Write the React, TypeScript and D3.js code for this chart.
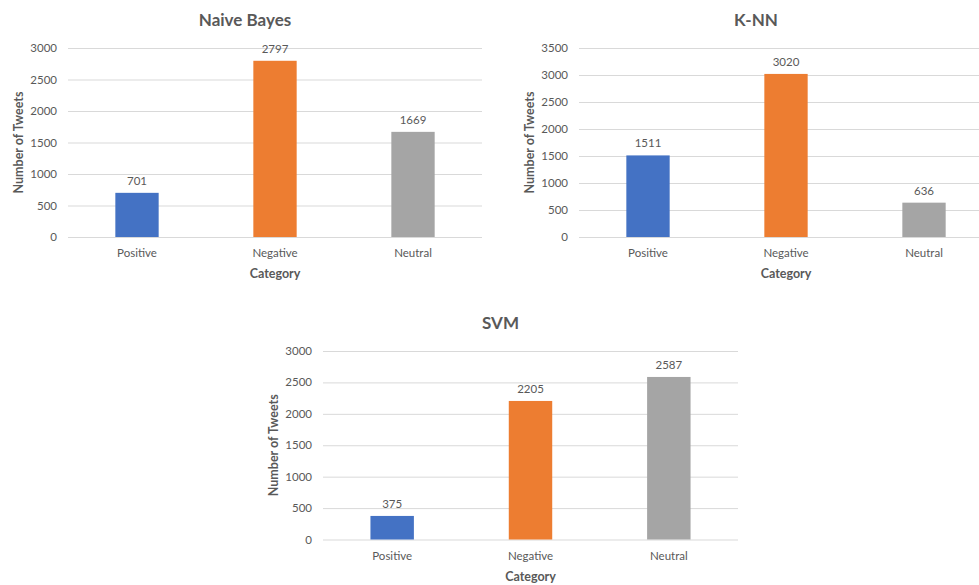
import { useRef, useEffect } from 'react'
import * as d3 from 'd3'

const W = 979
const H = 585
const FONT = 'Lato, "Noto Sans", sans-serif'

const categories = ['Positive', 'Negative', 'Neutral']
const colors = ['#4472C4', '#ED7D31', '#A5A5A5']
const nbValues = [701, 2797, 1669]
const knnValues = [1511, 3020, 636]
const svmValues = [375, 2205, 2587]
const nbTicks = [0, 500, 1000, 1500, 2000, 2500, 3000]
const knnTicks = [0, 500, 1000, 1500, 2000, 2500, 3000, 3500]
const svmTicks = [0, 500, 1000, 1500, 2000, 2500, 3000]

interface Panel {
  title: string
  values: number[]
  ticks: number[]
  left: number
  right: number
  top: number
  bottom: number
}

const panels: Panel[] = [
  { title: 'Naive Bayes', values: nbValues, ticks: nbTicks, left: 68, right: 482, top: 48, bottom: 237 },
  { title: 'K-NN', values: knnValues, ticks: knnTicks, left: 579, right: 993, top: 48, bottom: 237 },
  { title: 'SVM', values: svmValues, ticks: svmTicks, left: 323, right: 738, top: 351, bottom: 539.5 },
]

export default function App() {
  const svgRef = useRef<SVGSVGElement>(null)

  useEffect(() => {
    if (!svgRef.current) return
    const el = d3.select(svgRef.current)
    el.selectAll('*').remove()
    el.append('rect').attr('width', W).attr('height', H).attr('fill', '#fff')

    panels.forEach((p) => {
      const g = el.append('g')
      const x = d3.scaleBand().domain(categories).range([p.left, p.right]).paddingInner(0.686).paddingOuter(0.343)
      const y = d3.scaleLinear().domain([0, d3.max(p.ticks) ?? 0]).range([p.bottom, p.top])
      const cx = (p.left + p.right) / 2

      // Gridlines
      g.append('g')
        .attr('transform', `translate(${p.left},0)`)
        .call(d3.axisLeft(y).tickValues(p.ticks).tickSize(-(Math.min(p.right, W) - p.left)).tickFormat(() => ''))
        .call((a) => {
          a.select('.domain').remove()
          a.selectAll('line').attr('stroke', '#d9d9d9').attr('stroke-width', 1)
        })

      // Y tick labels
      g.selectAll('.ytick')
        .data(p.ticks)
        .join('text')
        .attr('x', p.left - 11)
        .attr('y', (d) => y(d))
        .attr('dy', '0.35em')
        .attr('text-anchor', 'end')
        .attr('font-family', FONT)
        .attr('font-size', '11.5px')
        .attr('fill', '#595959')
        .text((d) => d)

      // Bars
      g.selectAll('.bar')
        .data(p.values)
        .join('rect')
        .attr('x', (_, i) => x(categories[i]) ?? 0)
        .attr('y', (d) => y(d))
        .attr('width', x.bandwidth())
        .attr('height', (d) => p.bottom - y(d))
        .attr('fill', (_, i) => colors[i])

      // Value labels
      g.selectAll('.val')
        .data(p.values)
        .join('text')
        .attr('x', (_, i) => (x(categories[i]) ?? 0) + x.bandwidth() / 2)
        .attr('y', (d) => y(d) - 8)
        .attr('text-anchor', 'middle')
        .attr('font-family', FONT)
        .attr('font-size', '11.5px')
        .attr('fill', '#595959')
        .text((d) => d)

      // Category labels
      g.selectAll('.cat')
        .data(categories)
        .join('text')
        .attr('x', (d) => (x(d) ?? 0) + x.bandwidth() / 2)
        .attr('y', p.bottom + 16)
        .attr('dy', '0.35em')
        .attr('text-anchor', 'middle')
        .attr('font-family', FONT)
        .attr('font-size', '11.5px')
        .attr('fill', '#595959')
        .text((d) => d)

      // Axis titles
      g.append('text')
        .attr('x', cx)
        .attr('y', p.bottom + 37)
        .attr('dy', '0.35em')
        .attr('text-anchor', 'middle')
        .attr('font-family', FONT)
        .attr('font-size', '12.5px')
        .attr('font-weight', 'bold')
        .attr('fill', '#595959')
        .text('Category')

      g.append('text')
        .attr('transform', `translate(${p.left - 49},${(p.top + p.bottom) / 2}) rotate(-90)`)
        .attr('dy', '0.35em')
        .attr('text-anchor', 'middle')
        .attr('font-family', FONT)
        .attr('font-size', '12.5px')
        .attr('font-weight', 'bold')
        .attr('fill', '#595959')
        .text('Number of Tweets')

      // Title
      g.append('text')
        .attr('x', cx - 30)
        .attr('y', p.top - 28)
        .attr('dy', '0.35em')
        .attr('text-anchor', 'middle')
        .attr('font-family', FONT)
        .attr('font-size', '17px')
        .attr('font-weight', 'bold')
        .attr('fill', '#595959')
        .text(p.title)
    })
  }, [])

  return (
    <svg
      ref={svgRef}
      width={W}
      height={H}
      style={{ position: 'absolute', left: 0, top: 0, display: 'block' }}
    />
  )
}
